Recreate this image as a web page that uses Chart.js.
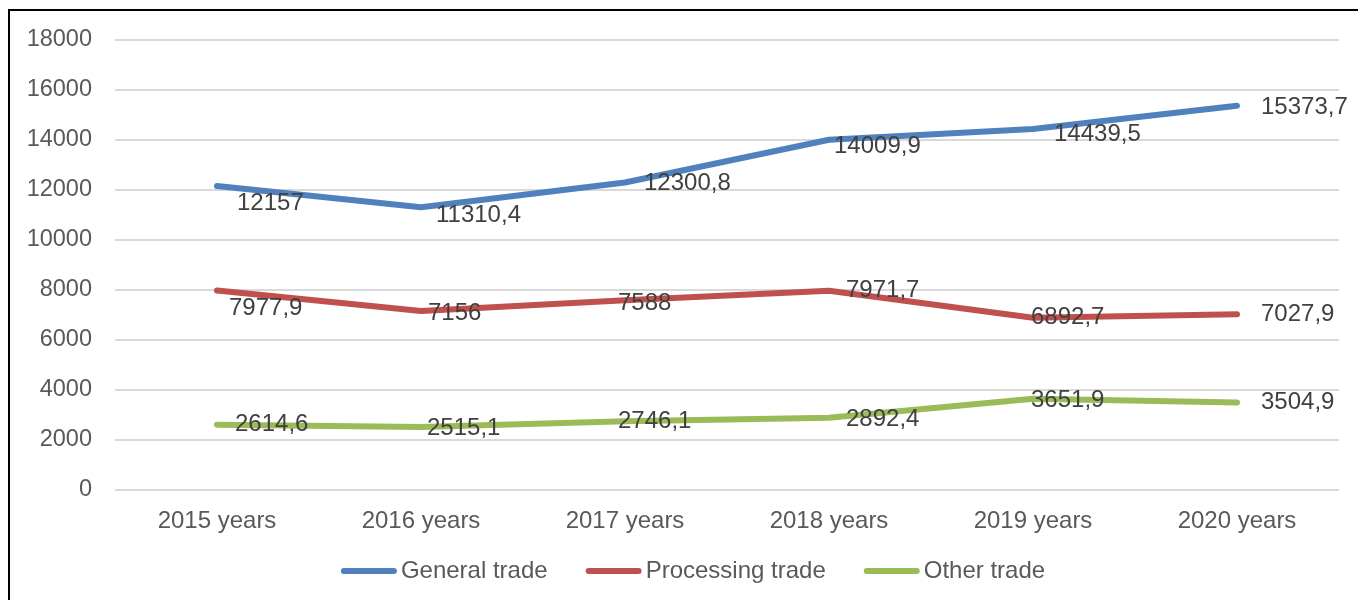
<!DOCTYPE html>
<html>
<head>
<meta charset="utf-8">
<script src="https://cdn.jsdelivr.net/npm/chart.js@4/dist/chart.umd.min.js"></script>
<style>
  html, body { margin: 0; padding: 0; background: #fff; overflow: hidden; }
  #frame { position: absolute; left: 8px; top: 9px; width: 1400px; height: 700px;
           border-left: 2px solid #000; border-top: 2px solid #000; }
  #wrap { position: absolute; left: 0; top: 0; width: 1358px; height: 600px; }
</style>
</head>
<body>
<div id="frame"></div>
<div id="wrap"><canvas id="tradeChart"></canvas></div>
<script>
// data
const years = ['2015 years', '2016 years', '2017 years', '2018 years', '2019 years', '2020 years'];
const generalTrade = [12157, 11310.4, 12300.8, 14009.9, 14439.5, 15373.7];
const processingTrade = [7977.9, 7156, 7588, 7971.7, 6892.7, 7027.9];
const otherTrade = [2614.6, 2515.1, 2746.1, 2892.4, 3651.9, 3504.9];
const yTicks = [0, 2000, 4000, 6000, 8000, 10000, 12000, 14000, 16000, 18000];

// small nudges for the value labels (px, relative to each point)
const labelNudge = [
  [[20, 17], [15, 8], [19, 1], [5, 7], [21, 5], [24, 2]],
  [[12, 18], [7, 2], [-7, 3], [17, 0], [-2, 0], [24, 0]],
  [[18, 0], [6, 1], [-7, 0], [17, 2], [-2, 2], [24, 0]]
];

const FONT = "'Liberation Sans', Arial, sans-serif";
Chart.defaults.font.family = FONT;
Chart.defaults.color = '#595959';

// comma decimal like the original
function fmt(v) {
  return String(v).replace('.', ',');
}

const valueLabels = {
  id: 'valueLabels',
  afterDatasetsDraw(chart) {
    const ctx = chart.ctx;
    ctx.save();
    ctx.font = '24px ' + FONT;
    ctx.fillStyle = '#404040';
    ctx.textAlign = 'left';
    ctx.textBaseline = 'middle';
    chart.data.datasets.forEach((ds, di) => {
      const meta = chart.getDatasetMeta(di);
      meta.data.forEach((pt, i) => {
        const n = labelNudge[di][i];
        ctx.fillText(fmt(ds.data[i]), pt.x + n[0], pt.y + n[1]);
      });
    });
    ctx.restore();
  }
};

// legend drawn by hand: line sample right next to its text, like the original
const lineLegend = {
  id: 'lineLegend',
  afterDraw(chart) {
    const ctx = chart.ctx;
    const lineLen = 56, textGap = 4, itemGap = 38, y = 571, centerX = 693;
    ctx.save();
    ctx.font = '24px ' + FONT;
    ctx.textBaseline = 'middle';
    ctx.textAlign = 'left';
    const items = chart.data.datasets.map(ds => ({
      text: ds.label, color: ds.borderColor, w: ctx.measureText(ds.label).width
    }));
    let total = 0;
    items.forEach((it, i) => { total += lineLen + textGap + it.w + (i ? itemGap : 0); });
    let x = centerX - total / 2;
    items.forEach(it => {
      ctx.strokeStyle = it.color;
      ctx.lineWidth = 6;
      ctx.lineCap = 'round';
      ctx.beginPath();
      ctx.moveTo(x + 3, y);
      ctx.lineTo(x + lineLen - 3, y);
      ctx.stroke();
      ctx.fillStyle = '#595959';
      ctx.fillText(it.text, x + lineLen + textGap, y);
      x += lineLen + textGap + it.w + itemGap;
    });
    ctx.restore();
  }
};

const ctx = document.getElementById('tradeChart').getContext('2d');
const chart = new Chart(ctx, {
  type: 'line',
  data: {
    labels: years,
    datasets: [
      { label: 'General trade', data: generalTrade, borderColor: '#4F81BD', backgroundColor: '#4F81BD' },
      { label: 'Processing trade', data: processingTrade, borderColor: '#C0504D', backgroundColor: '#C0504D' },
      { label: 'Other trade', data: otherTrade, borderColor: '#9BBB59', backgroundColor: '#9BBB59' }
    ]
  },
  options: {
    responsive: true,
    maintainAspectRatio: false,
    animation: false,
    datasets: {
      line: { borderWidth: 6, pointRadius: 0, tension: 0, borderCapStyle: 'round', borderJoinStyle: 'round', fill: false }
    },
    layout: { padding: { top: 40, right: 19, left: 0, bottom: 66 } },
    scales: {
      x: {
        offset: true,
        grid: { display: false, drawTicks: false },
        border: { display: false },
        ticks: { padding: 17, color: '#595959', font: { size: 24 } },
        afterFit(axis) { axis.height = 44; }
      },
      y: {
        min: 0,
        max: 18000,
        afterBuildTicks(axis) { axis.ticks = yTicks.map(v => ({ value: v })); },
        grid: { color: '#d9d9d9', lineWidth: 2, drawTicks: false },
        border: { display: false },
        ticks: {
          padding: 23,
          color: '#595959',
          font: { size: 23.5 },
          callback: (v) => String(v)
        },
        afterFit(axis) { axis.width = 115; }
      }
    },
    plugins: {
      legend: { display: false },
      tooltip: { enabled: false }
    }
  },
  plugins: [valueLabels, lineLegend]
});
</script>
</body>
</html>
